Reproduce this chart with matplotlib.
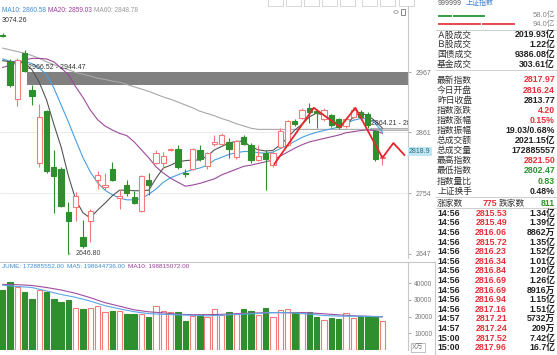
import matplotlib.pyplot as plt
from matplotlib.patches import Rectangle

plt.rcParams['font.family'] = ['Liberation Sans', 'Noto Sans CJK SC']

W, H = 557, 355

# 日K线 (开, 高, 低, 收)
opens = [3033, 2985, 2919, 3000, 2936, 2806, 2899, 2799, 2796, 2721,
         2729, 2677, 2704, 2777, 2764, 2796, 2745, 2768, 2747, 2723,
         2777, 2807, 2807, 2829, 2831, 2790, 2796, 2830, 2802, 2840,
         2841, 2844, 2817, 2852, 2839, 2812, 2824, 2803, 2835, 2839,
         2880, 2886, 2903, 2898, 2884, 2891, 2884, 2872, 2888, 2897,
         2893, 2864, 2816.24]
highs = [3035, 2990, 2992, 3005, 2944.47, 2911, 2901, 2830, 2800, 2739,
         2756, 2707, 2725, 2792, 2789, 2809, 2759, 2777, 2757, 2786,
         2790, 2830, 2826, 2833, 2838, 2796, 2833, 2838, 2826, 2856,
         2859, 2851, 2848, 2856, 2842, 2839, 2830, 2831, 2868, 2882,
         2884, 2903, 2912, 2900, 2903, 2893, 2886, 2886, 2906, 2901,
         2896, 2864.21, 2821.50]
lows = [3028, 2940, 2907, 2966.52, 2909, 2800, 2789, 2719, 2729, 2646.80,
        2704, 2658, 2667, 2761, 2759, 2775, 2726, 2748, 2735, 2721,
        2751, 2805, 2797, 2828, 2796, 2782, 2794, 2811, 2797, 2837,
        2838, 2816, 2814, 2838, 2807, 2810, 2760, 2800, 2833, 2837,
        2872, 2884, 2877, 2868, 2880, 2870, 2866, 2868, 2885, 2883,
        2868.06, 2811, 2802.47]
closes = [3030, 2944, 2989, 2968, 2925, 2888, 2793, 2784, 2731, 2704,
          2748, 2660, 2723, 2786, 2768, 2777, 2749, 2754, 2737, 2784,
          2768, 2824, 2819, 2831, 2800, 2788, 2831, 2813, 2824, 2843,
          2856, 2831, 2846, 2841, 2812, 2819, 2813, 2825, 2864, 2880,
          2876, 2901, 2897, 2895, 2900, 2874, 2871, 2884, 2900, 2887,
          2874, 2813.77, 2817.97]

# 成交量 (万)
volumes = [35900, 40900, 37900, 34900, 30400, 35900, 34900, 30400, 28600, 29800,
           25000, 24600, 25000, 26600, 23000, 23400, 23400, 21600, 21400, 21400,
           19900, 26600, 23600, 23000, 23000, 17600, 20400, 21000, 19900, 24400,
           21000, 23000, 21400, 24600, 23400, 21000, 25000, 19900, 24000, 24600,
           22600, 22600, 22600, 19600, 18000, 19400, 18400, 22000, 19400, 20600,
           20400, 20600, 17290]

ma5 = [2987, 2985, 2984, 2983, 2971, 2949, 2918, 2875, 2835, 2784,
       2742, 2719, 2710, 2724, 2736, 2749, 2759, 2759, 2758, 2758,
       2759, 2780, 2798, 2803, 2809, 2811, 2812, 2812, 2819, 2830,
       2836, 2842, 2845, 2845, 2835, 2830, 2828, 2829, 2839, 2851,
       2865, 2875, 2888, 2895, 2890, 2883, 2875, 2872, 2888, 2895,
       2890, 2881, 2868]
ma10 = [2990, 2986, 2985, 2985, 2982, 2974, 2962, 2939, 2909, 2879,
        2847, 2816, 2791, 2772, 2759, 2751, 2745, 2742, 2742, 2744,
        2752, 2761, 2773, 2781, 2786, 2791, 2795, 2798, 2803, 2812,
        2817, 2822, 2825, 2827, 2827, 2825, 2824, 2826, 2832, 2838,
        2845, 2852, 2857, 2861, 2864, 2867, 2870, 2876, 2882, 2885,
        2885, 2877, 2861]
ma20 = [2975, 2979, 2983, 2988, 2991, 2991, 2990, 2985, 2974, 2962,
        2941, 2922, 2900, 2883, 2872, 2865, 2859, 2855, 2844, 2830,
        2816, 2800, 2789, 2780, 2773, 2766, 2768, 2771, 2775, 2779,
        2786, 2791, 2796, 2801, 2803, 2806, 2809, 2812, 2819, 2826,
        2833, 2839, 2844, 2847, 2850, 2853, 2856, 2860, 2862, 2864,
        2865, 2864, 2859]
ma60 = [3009, 3006, 3003, 3000, 2996, 2991, 2985, 2980, 2975, 2971,
        2966, 2963, 2960, 2956, 2954, 2951, 2949, 2945, 2941, 2937,
        2933, 2928, 2923, 2919, 2914, 2909, 2904, 2898, 2894, 2890,
        2885, 2881, 2876, 2872, 2868, 2866, 2866, 2866, 2866, 2866,
        2866, 2866, 2866, 2866, 2866, 2866, 2866, 2866, 2866, 2866,
        2866, 2866, 2865]

vol_ma_idx = list(range(0, 53, 2))
vol_ma5 = [38900, 38100, 37500, 35400, 33300, 31600, 29300, 26600, 24700, 23000,
           21800, 21400, 21100, 20800, 20500, 20900, 21400, 21700, 22300, 22500,
           22200, 21500, 20700, 20300, 20300, 20200, 19860]
vol_ma10 = [39400, 39200, 38700, 37500, 36000, 34000, 31400, 28400, 26300, 24100,
            22900, 22300, 21400, 21200, 21200, 21400, 21800, 22100, 22400, 22400,
            22400, 22300, 21700, 21100, 20500, 20200, 19880]

# 画线工具的折线
zz_idx = [37.2, 42.6, 46.2, 48.3, 52.0, 53.5, 55.0]
zz_price = [2805, 2904, 2870, 2904, 2816, 2842, 2821]

price_ticks = [2967, 2861, 2754, 2647]
vol_ticks = [10000, 20000, 30000, 40000]
top_high = '3074.26'

# 缺口 (下沿, 上沿, 起点, 标签)
gaps = [(2944.47, 2966.52, 3.36, '2966.52 - 2944.47'),
        (2864.21, 2868.06, 50.36, '2864.21 - 2868.06')]

# 右侧行情
top_bars_green = [17.5, 40.5]
top_bars_red = [52.5, 41.5]
top_bar_text = ['58.0亿', '94.0亿']
turnover_labels = ['Ａ股成交', 'Ｂ股成交', '国债成交', '基金成交']
turnover_values = ['2019.93亿', '1.22亿', '9386.08亿', '303.61亿']
stat_labels = ['最新指数', '今日开盘', '昨日收盘', '指数涨跌', '指数涨幅', '指数振幅',
               '总成交额', '总成交量', '最高指数', '最低指数', '指数量比', '上证换手']
stat_values = ['2817.97', '2816.24', '2813.77', '4.20', '0.15%', '19.03/0.68%',
               '2021.15亿', '172885557', '2821.50', '2802.47', '0.83', '0.48%']
stat_tone = ['up', 'up', 'flat', 'up', 'up', 'flat',
             'flat', 'flat', 'up', 'down', 'down', 'flat']
up_count, down_count = 775, 811
trade_times = ['14:56'] * 11 + ['14:57', '14:57', '15:00', '15:00']
trade_prices = ['2815.53', '2815.49', '2816.06', '2815.72', '2816.23', '2816.34',
                '2816.84', '2816.69', '2816.69', '2816.94', '2817.16', '2817.21',
                '2817.24', '2817.52', '2817.96']
trade_vols = ['1.34亿', '1.39亿', '8862万', '1.35亿', '1.52亿', '1.01亿', '1.20亿',
              '1.26亿', '8916万', '1.15亿', '1.51亿', '5732万', '209万', '7.42亿', '16.7亿']

C_UP = '#f47a7a'
C_DN = '#2f8f2f'
T_UP = '#e8303a'
T_DN = '#2a962a'
T_FLAT = '#222222'
tone = {'up': T_UP, 'down': T_DN, 'flat': T_FLAT}

fig = plt.figure(figsize=(W / 100, H / 100), dpi=100)


def px_axes(x0, y0, x1, y1):
    return fig.add_axes([x0 / W, 1 - y1 / H, (x1 - x0) / W, (y1 - y0) / H])


def txt(x, y, s, **kw):
    kw.setdefault('va', 'center')
    return fig.text(x / W, 1 - y / H, s, **kw)


def fig_line(xs, ys, **kw):
    fig.add_artist(plt.Line2D([x / W for x in xs], [1 - y / H for y in ys], **kw))


# ---------- K线主图 ----------
ax = px_axes(0, 6, 408, 258)
ax.set_xlim(-0.37, 55.5)
ax.set_ylim(2639.6, 3083.2)
for s in ['top', 'left', 'bottom']:
    ax.spines[s].set_visible(False)
ax.spines['right'].set_color('#c8c8c8')
ax.spines['right'].set_linewidth(0.8)
ax.set_xticks([])
ax.yaxis.tick_right()
ax.set_yticks(price_ticks)
ax.set_yticklabels([str(t) for t in price_ticks])
ax.tick_params(axis='y', length=2.5, width=0.6, color='#999999', pad=3,
               labelsize=5, labelcolor='#777777')
for t in price_ticks[1:3]:
    ax.axhline(t, color='#e8e8e8', lw=0.6, zorder=0)

for k, (lo, hi, start, label) in enumerate(gaps):
    if k == 0:
        ax.add_patch(Rectangle((start, lo), 60, hi - lo, facecolor='#808080',
                               edgecolor='none', zorder=1))
    else:
        ax.add_patch(Rectangle((start, lo), 60, hi - lo, facecolor='#d0d0d0',
                               edgecolor='#a8a8a8', lw=0.6, zorder=1))
    ax.text(start + 0.1, hi + 2.5, label, fontsize=5, color='#333333',
            va='bottom', ha='left', clip_on=True, zorder=6)

idx = list(range(len(opens)))
ax.plot(idx, ma60, color='#a8a8a8', lw=0.8, zorder=2)
ax.plot(idx, ma20, color='#9b4b9b', lw=0.8, zorder=2)
ax.plot(idx, ma10, color='#4a9ee0', lw=0.8, zorder=2)
ax.plot(idx, ma5, color='#555555', lw=0.8, zorder=2)

for i in idx:
    o, h, l, c = opens[i], highs[i], lows[i], closes[i]
    up = c >= o
    col = C_UP if up else C_DN
    ax.vlines(i, l, h, color=col, lw=0.8, zorder=3)
    body = max(abs(c - o), 0.8)
    ax.add_patch(Rectangle((i - 0.36, min(o, c)), 0.72, body,
                           facecolor='white' if up else C_DN,
                           edgecolor=col, lw=0.8, zorder=4))

ax.plot(zz_idx, zz_price, color='#e4262b', lw=1.3, zorder=5, clip_on=True)

low_i = lows.index(min(lows))
ax.annotate(f'{min(lows):.2f}', xy=(low_i, min(lows)), xytext=(low_i + 1.0, min(lows)),
            fontsize=5, color='#444444', va='center',
            arrowprops=dict(arrowstyle='-', color='#666666', lw=0.6))

txt(2, 11, 'MA10: 2860.58', fontsize=4.7, color='#3d8fd6')
txt(48, 11, 'MA20: 2859.03', fontsize=4.7, color='#9b3d9b')
txt(94, 11, 'MA60: 2848.78', fontsize=4.7, color='#999999')
txt(2, 20.5, top_high, fontsize=5, color='#333333')

# 当前价标签
txt(409, 151.5, '2818.9', fontsize=5, color='#2a6f80',
    bbox=dict(boxstyle='square,pad=0.15', facecolor='#bfe6f2', edgecolor='none'))

# 右上角小图标
fig.add_artist(plt.Circle((396 / W, 1 - 12 / H), 2.2 / W, fill=False,
                          edgecolor='#999999', lw=0.6))
fig.add_artist(Rectangle((401 / W, 1 - 15 / H), 4 / W, 6 / H, fill=False,
                         edgecolor='#777777', lw=0.6))

# 顶部工具按钮
for bx in [268, 286, 304, 322, 340, 362, 380, 399]:
    fig.add_artist(Rectangle((bx / W, 1 - 6 / H), 15 / W, 7 / H, fill=False,
                             edgecolor='#c8c8c8', lw=0.5))

# ---------- 成交量副图 ----------
vax = px_axes(0, 262, 408, 350)
vax.set_xlim(-0.37, 55.5)
vax.set_ylim(0, 52800)
for s in ['left', 'bottom']:
    vax.spines[s].set_visible(False)
for s in ['top', 'right']:
    vax.spines[s].set_color('#c8c8c8')
    vax.spines[s].set_linewidth(0.8)
vax.set_xticks([])
vax.yaxis.tick_right()
vax.set_yticks(vol_ticks)
vax.set_yticklabels([str(t) for t in vol_ticks])
vax.tick_params(axis='y', length=2.5, width=0.6, color='#999999', pad=2,
                labelsize=4.8, labelcolor='#777777')

for i in idx:
    up = closes[i] >= opens[i]
    vax.bar(i, volumes[i], width=0.74, color='white' if up else C_DN,
            edgecolor=C_UP if up else C_DN, lw=0.8, zorder=3)
vax.plot(vol_ma_idx, vol_ma10, color='#a04ca0', lw=0.8, zorder=4)
vax.plot(vol_ma_idx, vol_ma5, color='#5aa8e6', lw=0.8, zorder=4)

txt(2, 266, 'JUME: 172885552.00', fontsize=4.6, color='#3d8fd6')
txt(67, 266, 'MA5: 198644736.00', fontsize=4.6, color='#3d8fd6')
txt(128, 266, 'MA10: 198815072.00', fontsize=4.6, color='#9b3d9b')
txt(412, 347.5, 'X万', fontsize=5, color='#777777',
    bbox=dict(boxstyle='square,pad=0.2', facecolor='white', edgecolor='#aaaaaa', lw=0.5))

fig_line([408, 435], [262, 262], color='#c8c8c8', lw=0.8)
fig_line([435, 435], [262, 355], color='#c8c8c8', lw=0.8)

# ---------- 右侧行情面板 ----------
txt(438, 0, '999999', fontsize=5, color='#555555', va='top')
txt(466, 0, '上证指数', fontsize=5, color='#3d7fd6', va='top')

bar_ax = px_axes(437, 11, 555, 28)
bar_ax.set_xlim(0, 142)
bar_ax.set_ylim(-0.5, 1.5)
bar_ax.axis('off')
left = 0
for v in top_bars_green:
    bar_ax.barh(1, v, left=left, height=0.32, color='#2f9a3a', edgecolor='white', lw=0.8)
    left += v
left = 0
for v in top_bars_red:
    bar_ax.barh(0, v, left=left, height=0.32, color='#e8404a', edgecolor='white', lw=0.8)
    left += v
txt(555, 15.5, top_bar_text[0], fontsize=5.5, color='#888888', ha='right')
txt(555, 24, top_bar_text[1], fontsize=5.5, color='#888888', ha='right')

for y in [29.5, 70, 196.5, 208.3]:
    fig_line([436, 557], [y, y], color='#c8c8c8', lw=0.6)

for k, (lab, val) in enumerate(zip(turnover_labels, turnover_values)):
    y = 35 + 9.7 * k
    txt(437, y, lab, fontsize=6.3, color='#333333')
    txt(555, y, val, fontsize=6.3, color=T_FLAT, ha='right', fontweight='bold')

for k, (lab, val, tn) in enumerate(zip(stat_labels, stat_values, stat_tone)):
    y = 80 + 10.1 * k
    txt(437, y, lab, fontsize=6.3, color='#333333')
    txt(555, y, val, fontsize=6.3, color=tone[tn], ha='right', fontweight='bold')

txt(437, 203, '涨家数', fontsize=6.3, color='#333333')
txt(497, 203, str(up_count), fontsize=6.3, color=T_UP, ha='right', fontweight='bold')
txt(499, 203, '跌家数', fontsize=6.3, color='#333333')
txt(555, 203, str(down_count), fontsize=6.3, color=T_DN, ha='right', fontweight='bold')

for k, (t, p, v) in enumerate(zip(trade_times, trade_prices, trade_vols)):
    y = 213.3 + 9.6 * k
    txt(437, y, t, fontsize=6.3, color='#222222', fontweight='bold')
    txt(507, y, p, fontsize=6.3, color=T_UP, ha='right', fontweight='bold')
    txt(555, y, v, fontsize=6.3, color='#222222', ha='right', fontweight='bold')

fig.savefig('out.png', dpi=100)
